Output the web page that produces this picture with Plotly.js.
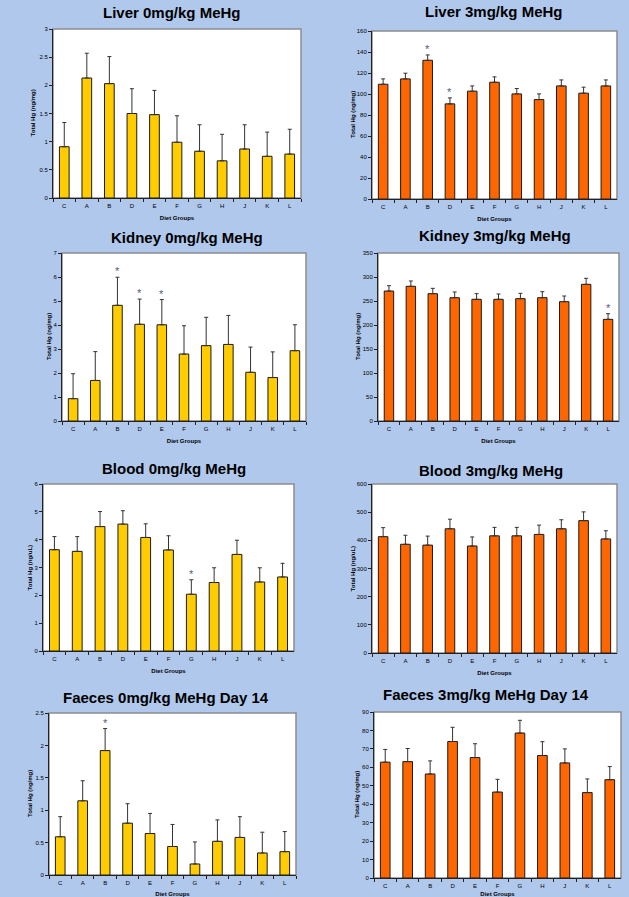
<!DOCTYPE html>
<html>
<head>
<meta charset="utf-8">
<script src="https://cdn.plot.ly/plotly-3.0.1.min.js"></script>
<style>
html,body{margin:0;padding:0;background:#B0C8EC;}
#chart{width:629px;height:897px;}
</style>
</head>
<body>
<div id="chart"></div>
<script>
// ---------- DATA ----------
const categories = ["C","A","B","D","E","F","G","H","J","K","L"];

const liver0Mean = [0.91,2.13,2.03,1.50,1.48,0.99,0.83,0.66,0.87,0.74,0.78];
const liver0SE   = [0.43,0.44,0.48,0.44,0.43,0.47,0.47,0.47,0.43,0.43,0.44];
const liver0Star = [];

const liver3Mean = [109.3,114.4,132.1,90.6,102.7,111.2,100.1,94.7,107.7,100.8,107.7];
const liver3SE   = [5.1,5.4,5.1,5.7,5.0,5.1,5.1,5.4,5.7,5.7,5.7];
const liver3Star = ["B","D"];

const kidney0Mean = [0.93,1.69,4.82,4.03,4.01,2.79,3.14,3.19,2.03,1.81,2.93];
const kidney0SE   = [1.04,1.20,1.17,1.05,1.05,1.18,1.18,1.21,1.05,1.07,1.08];
const kidney0Star = ["B","D","E"];

const kidney3Mean = [270.8,280.6,265.3,256.9,253.5,253.5,254.9,256.9,248.6,284.7,211.8];
const kidney3SE   = [11.1,11.1,11.1,11.9,11.8,11.1,11.1,12.5,11.8,12.5,11.8];
const kidney3Star = ["L"];

const blood0Mean = [3.64,3.58,4.47,4.56,4.08,3.63,2.04,2.46,3.47,2.48,2.66];
const blood0SE   = [0.47,0.53,0.54,0.48,0.49,0.51,0.52,0.53,0.51,0.51,0.49];
const blood0Star = ["G"];

const blood3Mean = [413,386,383,441,380,416,416,421,441,470,405];
const blood3SE   = [32,32,32,34,32,30,30,33,32,31,29];
const blood3Star = [];

const faeces0Mean = [0.59,1.145,1.92,0.80,0.64,0.44,0.17,0.52,0.58,0.34,0.36];
const faeces0SE   = [0.31,0.31,0.34,0.30,0.31,0.34,0.34,0.33,0.32,0.32,0.31];
const faeces0Star = ["B"];

const faeces3Mean = [62.8,63.1,56.4,74.0,65.3,46.6,78.6,66.4,62.4,46.3,53.3];
const faeces3SE   = [6.9,7.1,7.1,7.7,7.5,6.9,6.9,7.5,7.6,7.4,7.1];
const faeces3Star = [];

const titles = ["Liver 0mg/kg MeHg","Liver 3mg/kg MeHg","Kidney 0mg/kg MeHg","Kidney 3mg/kg MeHg",
                "Blood 0mg/kg MeHg","Blood 3mg/kg MeHg","Faeces 0mg/kg MeHg Day 14","Faeces 3mg/kg MeHg Day 14"];
const yTitles = ["Total Hg (ng/mg)","Total Hg (ng/mg)","Total Hg (ng/mg)","Total Hg (ng/mg)",
                 "Total Hg (ng/uL)","Total Hg (ng/uL)","Total Hg (ng/mg)","Total Hg (ng/mg)"];
const xTitle = "Diet Groups";
const yMax  = [3,160,7,350,6,600,2.5,90];
const yStep = [0.5,20,1,50,1,100,0.5,10];

// ---------- LAYOUT (pixel boxes) ----------
const W = 629, H = 897;
const boxes = [
  {l:53,r:301,t:29,b:198, tx:172,ty:13, yx:33},
  {l:372,r:617,t:31,b:199, tx:494,ty:12, yx:353},
  {l:62,r:306,t:253,b:421, tx:187,ty:237, yx:49},
  {l:378,r:619,t:253,b:421, tx:495,ty:235, yx:358},
  {l:43,r:294,t:484,b:651, tx:174,ty:468, yx:29},
  {l:372,r:617,t:484,b:653, tx:491,ty:470, yx:352},
  {l:49,r:296,t:713,b:875, tx:166,ty:697, yx:30},
  {l:374,r:621,t:712,b:878, tx:486,ty:694, yx:357}
];
const colors = ["#FFCC00","#FF6600"];
const means = [liver0Mean,liver3Mean,kidney0Mean,kidney3Mean,blood0Mean,blood3Mean,faeces0Mean,faeces3Mean];
const ses   = [liver0SE,liver3SE,kidney0SE,kidney3SE,blood0SE,blood3SE,faeces0SE,faeces3SE];
const stars = [liver0Star,liver3Star,kidney0Star,kidney3Star,blood0Star,blood3Star,faeces0Star,faeces3Star];

const FONT = "Liberation Sans, Arial, sans-serif";
const px = x => x / W;
const py = y => 1 - y / H;

const data = [];
const layout = {
  width: W, height: H,
  margin: {l:0,r:0,t:0,b:0},
  paper_bgcolor: "#B0C8EC",
  plot_bgcolor: "#FFFFFF",
  showlegend: false,
  bargap: 0.57,
  font: {family: FONT, color: "#000"},
  annotations: [],
  shapes: []
};

for (let i = 0; i < 8; i++) {
  const n = i === 0 ? "" : String(i + 1);
  const b = boxes[i];
  data.push({
    type: "bar",
    x: categories,
    y: means[i],
    xaxis: "x" + n, yaxis: "y" + n,
    marker: {color: colors[i % 2], line: {color: "#1a1a1a", width: 1}},
    error_y: {type: "data", symmetric: false, array: ses[i], arrayminus: ses[i].map(() => 0),
              color: "#333333", thickness: 1, width: 2},
    hoverinfo: "x+y"
  });
  layout["xaxis" + n] = {
    domain: [px(b.l), px(b.r)],
    anchor: "y" + n,
    type: "category",
    showline: true, linecolor: "#222", linewidth: 1,
    ticks: "outside", tickson: "boundaries", ticklen: 3, tickcolor: "#222",
    ticklabelstandoff: 2,
    tickfont: {size: 6, family: FONT},
    showgrid: false, zeroline: false,
    title: {text: xTitle, font: {size: 6, family: FONT, weight: "bold"}, standoff: 7}
  };
  layout["yaxis" + n] = {
    domain: [py(b.b), py(b.t)],
    anchor: "x" + n,
    range: [0, yMax[i]], dtick: yStep[i], tick0: 0,
    showline: true, linecolor: "#222", linewidth: 1,
    ticks: "outside", ticklen: 3, tickcolor: "#222",
    tickfont: {size: 6, family: FONT},
    showgrid: false, zeroline: false
  };
  layout.shapes.push({
    type: "rect", xref: "x" + n + " domain", yref: "y" + n + " domain",
    x0: 0, x1: 1, y0: 0, y1: 1, layer: "below",
    line: {color: "#8c8c8c", width: 1.5}, fillcolor: "#FFFFFF"
  });
  // chart title
  layout.annotations.push({
    xref: "paper", yref: "paper", x: px(b.tx), y: py(b.ty),
    xanchor: "center", yanchor: "middle", showarrow: false,
    text: "<b>" + titles[i] + "</b>",
    font: {size: 15, family: FONT, color: "#000"}
  });
  // y-axis title
  layout.annotations.push({
    xref: "paper", yref: "paper", x: px(b.yx), y: py((b.t + b.b) / 2),
    xanchor: "center", yanchor: "middle", showarrow: false, textangle: -90,
    text: "<b>" + yTitles[i] + "</b>",
    font: {size: 6, family: FONT, color: "#000"}
  });
  stars[i].forEach(c => {
    const k = categories.indexOf(c);
    layout.annotations.push({
      xref: "x" + n, yref: "y" + n, x: c, y: means[i][k] + ses[i][k],
      xanchor: "center", yanchor: "bottom", yshift: -2, showarrow: false,
      text: "*", font: {size: 11, family: FONT, color: "#55587a"}
    });
  });
}

Plotly.newPlot("chart", data, layout, {displayModeBar: false, staticPlot: true});
</script>
</body>
</html>
